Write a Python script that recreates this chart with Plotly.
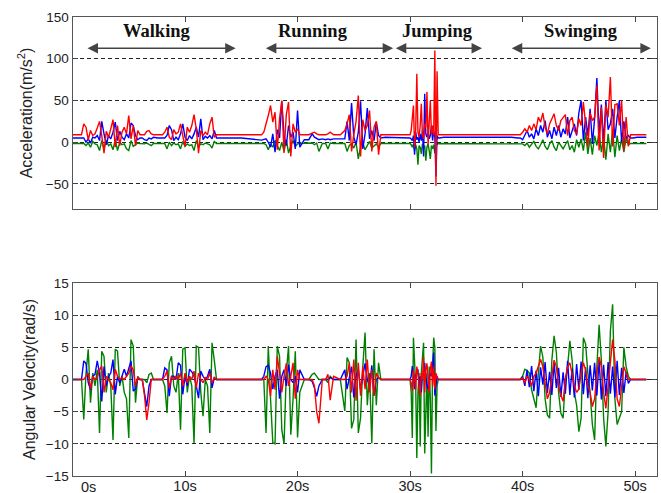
import plotly.graph_objects as go

# Sample times (s), shared by both sensors
t_s = [
    0.0, 0.8,
    1.0, 1.2, 1.4, 1.6, 1.8, 2.0, 2.2, 2.4, 2.6, 2.8, 3.0, 3.2, 3.4, 3.6, 3.8, 4.0, 4.2, 4.4, 4.6, 4.8, 5.0, 5.2, 5.4, 5.6, 5.8, 6.0,
    6.2, 6.4, 6.6, 6.8, 7.0, 7.2, 7.6, 8.0,
    8.2, 8.4, 8.6, 8.8, 9.0, 9.2, 9.4, 9.6, 9.8, 10.0, 10.2, 10.4, 10.6, 10.8, 11.0, 11.2, 11.4, 11.6, 11.8, 12.0, 12.2, 12.4, 12.6, 12.8,
    13.0, 15.0, 16.8,
    17.0, 17.2, 17.4, 17.6, 17.8, 18.0, 18.2, 18.4, 18.6, 18.8, 19.0, 19.2, 19.4, 19.6, 19.8, 20.0, 20.2,
    20.6, 21.0, 21.3, 21.5, 21.7, 21.9, 22.2, 22.5, 22.7, 22.9, 23.2, 23.8,
    24.2, 24.4, 24.6, 24.8, 25.0, 25.2, 25.4, 25.6, 25.8, 26.0, 26.2, 26.4, 26.6, 26.8, 27.0, 27.2, 27.4,
    27.8, 29.0, 29.9,
    30.0, 30.1, 30.2, 30.3, 30.4, 30.5, 30.6, 30.7, 30.8, 30.9, 31.0, 31.1, 31.2, 31.3, 31.4, 31.5, 31.6, 31.7, 31.8, 31.9, 32.0, 32.1, 32.2, 32.3, 32.4, 32.5,
    32.6, 33.0, 36.0, 39.0, 39.6,
    39.8, 40.0, 40.2, 40.4, 40.6, 40.8, 41.0, 41.2, 41.4, 41.6, 41.8, 42.0, 42.2, 42.4, 42.6, 42.8, 43.0, 43.2, 43.4, 43.6, 43.8,
    44.0, 44.2, 44.4, 44.6, 44.8, 45.0, 45.2, 45.4, 45.6, 45.8, 46.0, 46.2, 46.4, 46.6, 46.8, 47.0, 47.2, 47.4, 47.6, 47.8,
    48.0, 48.2, 48.4, 48.6, 48.8, 49.0, 49.2, 49.4, 49.6,
    49.8, 50.2, 51.0,
]

# Acceleration (m/s^2)
acc_red = [
    9, 9,
    22, 18, 3, 14, 8, 10, 17, 25, 8, -13, 13, 6, 16, 27, -6, 20, -4, 12, 18, 10, 32, 4, 20, -4, 14, 9,
    9, 9, 13, 14, 10, 9, 9, 9,
    12, 18, 6, 3, 15, 10, 12, 22, 8, -5, 18, 12, 20, 33, 16, -13, 14, 8, 12, 9, 22, 30, 6, 9,
    9, 9, 9,
    12, 21, 32, 44, 24, 36, -9, 28, 50, -13, 33, 48, -17, 22, 12, 16, 9,
    9, 9, 11, 12, 10, 9, 9, 9, 10, 12, 9, 9,
    14, 22, 33, -11, 9, 25, 56, -17, 27, 14, 20, 38, -11, 18, 25, -15, 9,
    9, 9, 9,
    9, 14, 26, 44, -6, 15, 82, 12, 6, 20, 46, 8, 4, 22, 18, 60, -3, 31, 50, 10, 20, 8, 110, -52, 85, 9,
    9, 9, 9, 9, 9,
    9, 12, 16, 12, 20, 14, 22, 15, 30, 24, 35, 18, 10, 22, 28, 34, 20, 14, 26, 30, 33,
    8, 26, 30, 14, 10, 28, 20, 48, 22, -6, 35, 26, 30, 68, -10, 42, -19, 45, 30, 78,
    -5, 45, 46, 20, 50, -10, 30, -5, 9,
    9, 9, 9,
]
acc_blue = [
    5, 5,
    5, 0, 4, -1, 6, 5, 8, 2, 25, 10, -3, 8, 4, 12, 24, 2, 13, 6, 3, 10, 5, 23, 20, 8, 3, 5,
    5, 3, 2, 5, 4, 6, 5, 5,
    5, 8, 20, 15, 2, 6, 3, 10, 22, 6, 2, 8, 4, 10, 18, 6, 28, 3, 7, 5, 8, 4, 14, 5,
    5, 5, 2.5,
    3, 4, 0, -6, 10, -12, 15, 5, 49, 8, -4, 20, 6, 12, -8, 38, -6,
    3, 3, 10, 6, 4, 3, 4, 3, 4, 3, 4, 4,
    4, 25, 2, 47, 6, -3, 12, 49, -8, 10, 41, 4, 14, 2, 24, 8, 5,
    6, 5, 5,
    5, 4, 2, 8, -15, 12, 3, 6, 0, 10, 2, 14, -17, 58, 10, 6, 12, 4, 8, 20, 2, 14, 6, -41, 8, 5,
    5, 6, 6, 6, 5,
    5, 3, 8, 14, 6, 10, 4, 16, 8, 20, 12, 26, 6, 14, 4, 18, 8, 20, 6, 16, 10,
    30, 5, 14, 22, 8, 35, 50, 2, 30, 8, 40, -2, 28, 77, 10, 45, 0, 50, 15, 22,
    40, 5, 30, 50, 0, 25, 5, 8, 5,
    5, 6, 6,
]
acc_green = [
    -1.5, -1.5,
    -1.5, -4, -1, -6, 1, -2, -3, -10, 2, -8, 2, -4, -2, -9, 3, -10, 0, -3, -2, -8, -10, 2, -5, -3, -1, -1.5,
    -1.5, -2, -1, -3, -4, -1.5, -1.5, -1.5,
    -1.5, -8, 0, -4, -1, -3, -2, -8, 1, -5, -2, -4, -3, -10, 2, -6, -2, -3, -1, -2, -3, -7, 1, -1.5,
    -1.5, -1.5, -1.5,
    -1.5, -3, -9, -2, -6, 2, -5, -10, 0, -11, 3, -13, -4, 2, -5, -2, -1.5,
    -1.5, -1.5, -1, -3, -1, -11, -1.5, -1.5, -8, -1, -1.5, -1.5,
    -1.5, -11, -4, -2, -7, 0, -20, -5, -1, -9, -3, 1, -7, -4, -2, -6, -1.5,
    -1.5, -1.5, -1.5,
    -1.5, -3, -6, -2, -10, -3, -8, -27, -4, -6, -14, -2, -8, -4, -22, -6, -2, -10, -20, -4, -8, -3, -13, -6, -2, -1.5,
    -1.5, -1.5, -1.5, -1.5, -1.5,
    -1.5, -2, -4, -1, -6, -2, 1, -5, -8, -3, 3, -5, -9, -2, 2, -6, -10, 0, -4, -8, -3,
    2, -9, -4, -12, 3, -6, 4, -10, 12, -14, 5, -15, 8, -4, 12, -12, 6, -21, 10, -12,
    15, -18, 8, -10, 4, -12, 5, -3, -1.5,
    -1.5, -1.5, -1.5,
]

# Angular velocity (rad/s)
gyr_red = [
    0, 0,
    0, 0.5, 1, -1.5, 0.5, 0, 0.3, 1.5, 2.1, -2, 0.5, 0, -0.5, -1.6, 1.6, 0.5, 0, 0.3, 0, 0.5, 1, 2.1, 1.5, -1, 0.3, 0,
    0, -2.5, -6.3, -3.6, 0, 0, 0, 0,
    0.5, 1.3, -1.3, 0.5, 0, 0.5, 0, 1, -1, 1, -0.5, 0.5, 0, 1.3, -1.3, 1, 0, -0.5, 0.3, 0, 1, -0.5, 0.3, 0,
    0, 0, 0,
    0, 0.5, 0, -2.6, 1.5, -1.6, 3.6, 1, -2, 0.5, 2.5, -1, 0.5, 2.6, -3, 1.5, 0,
    0, 0, 0, -1, -5, -6.8, 0, 0, 0.8, -3.2, 0.5, 0,
    0, 0.5, 2.6, -2, 3.1, -3.3, 2.6, -2.5, 2, -1.5, 3.1, -2, 1.5, -2.5, 1, 0.3, 0,
    0, 0, 0,
    0, -0.5, -1.8, 1.5, 0.5, -1.6, 2, 1, -0.5, -2.6, 1, 0, 3.5, -2, 1.5, 2.5, 0.5, -2, 1.6, 2.8, -1, 2, -1.5, 1, 0.3, 0,
    0, 0, 0, 0, 0,
    0, 0.3, -0.5, 0.5, 0, -1, 0.5, 1, 2, 3.1, 2, -1, -3, -2, 1, 3, 2, -1, -2.5, -3.4, 0,
    2, 2.6, 1, -1, -2, -1.5, 1, 2.6, 1.5, -1, -2, -4.2, -3, 1, 3.5, 2, -2, -4.5, -1, 3,
    6.2, 3, -3, -4.2, -1, 2, 1, 0, 0,
    0, 0, 0,
]
gyr_blue = [
    0, 0,
    2.9, 2.5, -0.5, -1.6, 0.5, 0.8, 2.9, 1, -3.4, 2, -1, 0.5, 1, 3.1, -2.3, 0.5, -0.5, 0.5, 1.6, 0.5, 1.6, 2.9, -1.8, -1.5, 0.2, 0,
    0, -2.5, -4.2, -1, 0, 0, 0, 0,
    1.8, 1.5, -2.6, 0.5, 0.5, 0, 2.6, 2.2, -2.3, 0.5, -1, 1.6, 1.2, 0.5, -1, -2.9, 1.3, 0.5, 0, 0.5, 1.6, -1.3, 0.3, 0,
    0, 0, 0,
    0.5, 2, 2.2, 1, -1.5, 0.5, 1.5, -3, 0.5, 1.5, -1, 2.3, 0, -0.5, 0.5, -2, 1.5,
    0, 0, -0.3, -1.3, -2.6, -1, 0, 0, 0, 0.3, 0, 0,
    1.5, -1.5, 0.5, 2, -2.8, 0.5, 1.6, -1.6, 0.5, 2.5, 0, -1, 2.2, -2.5, 0, 0.3, 0,
    0, 0, 0,
    0, 0.5, 2.1, 1, -1.5, 0.5, 1, 1.6, -1, 0.5, -2, 0.5, 1, 2.6, 0.5, -1, -1.5, 0.5, 1, 0.5, 2, 4.2, -2.5, -1, 0.5, 0,
    0, 0, 0, 0, 0,
    0, 0.5, -1, 1.5, -1.2, 2.1, -1.8, 1.4, -2.6, 1.9, -0.8, 2.7, -2.1, 1.2, -2.4, 2.6, -1.3, 1.8, -2.7, 1.1, -2.2,
    2.9, -2.4, 1.7, -2.8, 2.4, -1.6, 2.8, -2.3, 1.9, -2.9, 2.2, -1.7, 2.6, -2.5, 3.0, -3.1, 2.3, -2.6, 2.7, -2.2,
    2.0, -2.8, 2.9, -2.4, 1.8, -2.1, 1.2, -0.6, 0,
    0, 0, 0,
]
gyr_green = [
    0, 0,
    -6.2, 1, 4.7, -3.6, 1, -1, 1.5, -8.3, 4.4, 3.6, -2, 1, -1, -9.4, 4.7, 4.4, -1, 0.5, -2, -3, -9.1, 6.2, 5.2, -3.6, 0.5, 0,
    0, 0, -0.5, 0.8, 1, 0, 0, 0,
    -1, -5.2, 2.6, 3.6, -1, -2, 1, -7.8, 4.7, 4.9, -2, 0.5, -1, -9.9, 5.2, 5, -2, -5.7, 0, -1, -8.3, 5.7, 3, 0,
    0, 0, 0,
    0, -8.3, 5.2, -3, -9.8, -10, 5.2, 3.6, -7.8, -10, 1, 5.2, -8.6, -3, 4.4, -9, -2,
    0, 0, 0.8, 1, 0.5, 0, 0, 0, -0.5, 0.5, 0, 0,
    -4.9, 3.4, 2.6, -7.6, -6.2, 6.2, -8.3, -6, 2, 7.3, -4, 1, -9.9, 4.7, -4, 2.6, 0,
    0, 0, 0,
    0, -2, -9.1, 6.5, 2, -1, -12.2, -2, 1, -10.4, 1, 3, 5.7, -11.5, -5, 1, -8.9, 2, -3, -14.6, 2, 6.5, 5, -8, -1, 0,
    0, 0, 0, 0, 0,
    0, 0.5, 1.6, 1.4, 1, -1.6, -3, -4.4, 1, 5.2, 3.5, -3, -5.5, -6, 3, 6.8, 4.2, -2, -5.2, -6, 0,
    2, 6, 3, -2, -4, -8.1, -6, 6.5, 5.5, 1, -2, -7, -9.4, 2, 8.5, 3, -6, -10.4, -5, 7.5,
    11.7, -3, -7, -6, -5, 5, 2, 0.5, 0,
    0, 0, 0,
]

# Activity phases: label, label centre (s), arrow start/end (s)
phase_names = ["Walking", "Running", "Jumping", "Swinging"]
phase_label_t = [7.5, 21.4, 32.4, 45.2]
phase_arrow_start = [1.2, 17.05, 28.6, 38.9]
phase_arrow_end = [14.5, 28.5, 36.4, 51.4]
phase_label_y = 133
phase_arrow_y = 112.7

x_tick_vals = [0, 10, 20, 30, 40, 50]
x_tick_text = ["0s", "10s", "20s", "30s", "40s", "50s"]
acc_ticks = [-50, 0, 50, 100, 150]
gyr_ticks = [-15, -10, -5, 0, 5, 10, 15]

for name, arr in [("acc_red", acc_red), ("acc_blue", acc_blue), ("acc_green", acc_green),
                  ("gyr_red", gyr_red), ("gyr_blue", gyr_blue), ("gyr_green", gyr_green)]:
    if len(arr) != len(t_s):
        raise ValueError(f"{name}: {len(arr)} values for {len(t_s)} samples")

W, H = 661, 493
FONT = "Liberation Sans, Arial, sans-serif"
line_w = 1.4
colors = {"red": "#ff0000", "blue": "#0000ff", "green": "#008000"}

fig = go.Figure()
for ys, c in [(acc_green, "green"), (acc_blue, "blue"), (acc_red, "red")]:
    fig.add_trace(go.Scatter(x=t_s, y=ys, mode="lines", xaxis="x", yaxis="y",
                             line=dict(color=colors[c], width=line_w), showlegend=False,
                             hoverinfo="skip"))
for ys, c in [(gyr_green, "green"), (gyr_blue, "blue"), (gyr_red, "red")]:
    fig.add_trace(go.Scatter(x=t_s, y=ys, mode="lines", xaxis="x2", yaxis="y2",
                             line=dict(color=colors[c], width=line_w), showlegend=False,
                             hoverinfo="skip"))

x_dom = [72.5 / W, 656.5 / W]
top_dom = [1 - 209 / H, 1 - 17 / H]
bot_dom = [1 - 476 / H, 1 - 283 / H]

frame = dict(showline=True, linecolor="#555555", linewidth=1.2, mirror="ticks",
             ticks="inside", ticklen=5, tickcolor="#444444", tickwidth=1,
             zeroline=False, automargin=False)
grid = dict(showgrid=True, gridcolor="#222222", gridwidth=1, griddash="4px,3px")

# The first time label sits just right of the axis corner; it is drawn as an
# annotation so it can be nudged without padding.
ticktext_x = [""] + x_tick_text[1:]
TICK_FONT_X = 14.5

fig.update_layout(
    width=W, height=H,
    margin=dict(l=0, r=0, t=0, b=0, autoexpand=False),
    paper_bgcolor="white", plot_bgcolor="white",
    font=dict(family=FONT, color="#222222", size=14),
    xaxis=dict(domain=x_dom, anchor="y", range=[0, 51.9], tickvals=x_tick_vals,
               showticklabels=False, showgrid=False, **frame),
    yaxis=dict(domain=top_dom, anchor="x", range=[-80, 150], tickvals=acc_ticks,
               tickfont=dict(size=13.5),
               title=dict(text="Acceleration(m/s<sup>2</sup>)", font=dict(size=16), standoff=9),
               **grid, **frame),
    xaxis2=dict(domain=x_dom, anchor="y2", range=[0, 51.9], tickvals=x_tick_vals,
                ticktext=ticktext_x, tickfont=dict(size=TICK_FONT_X), ticklabelstandoff=-4,
                showgrid=False, **frame),
    yaxis2=dict(domain=bot_dom, anchor="x2", range=[-15, 15], tickvals=gyr_ticks,
                tickfont=dict(size=13.5),
                title=dict(text="Angular Velocity(rad/s)", font=dict(size=16), standoff=6),
                **grid, **frame),
    hovermode=False,
)

fig.add_annotation(x=x_tick_vals[0], y=0, xref="x2", yref="paper", text=x_tick_text[0],
                   showarrow=False, xanchor="left", yanchor="bottom", xshift=7, yshift=-3,
                   borderpad=0, font=dict(family=FONT, size=TICK_FONT_X, color="#222222"))

for name, tl, a0, a1 in zip(phase_names, phase_label_t, phase_arrow_start, phase_arrow_end):
    fig.add_annotation(x=tl, y=phase_label_y, xref="x", yref="y", text=f"<b>{name}</b>",
                       showarrow=False, font=dict(family="Liberation Serif, Times New Roman, serif",
                                                  size=18.5, color="#111111"))
    fig.add_annotation(x=a1, y=phase_arrow_y, ax=a0, ay=phase_arrow_y,
                       xref="x", yref="y", axref="x", ayref="y", text="",
                       showarrow=True, arrowhead=2, arrowside="end+start",
                       arrowsize=1.4, arrowwidth=1.5, arrowcolor="#444444",
                       standoff=0, startstandoff=0)

fig.write_html("out.html", config={"displayModeBar": False})
